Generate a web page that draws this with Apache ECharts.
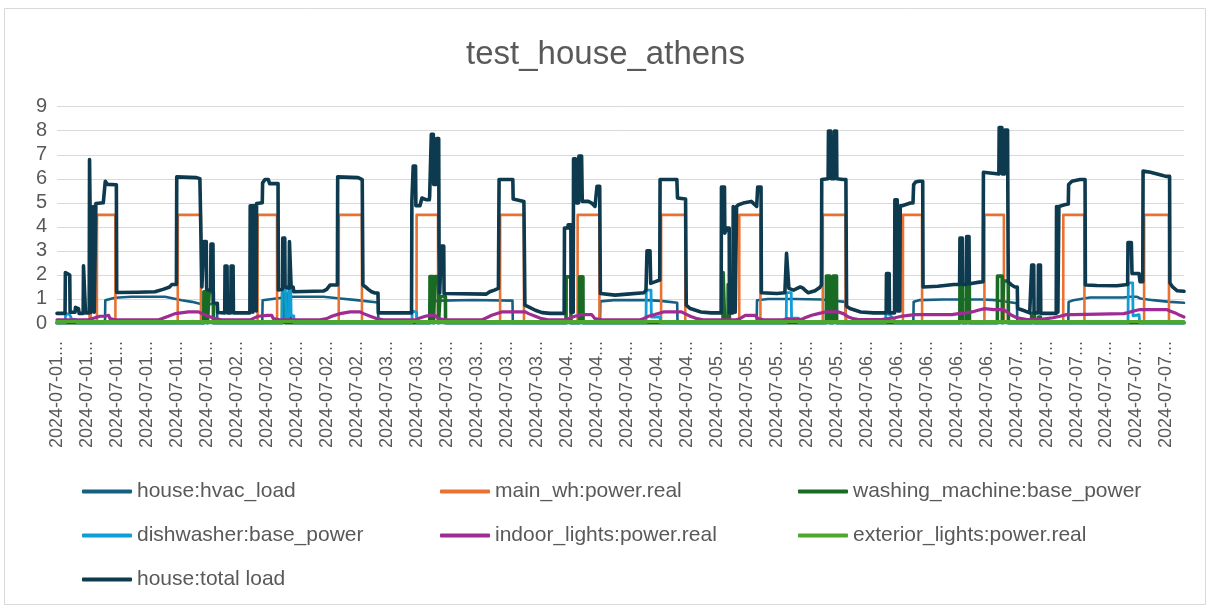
<!DOCTYPE html>
<html>
<head>
<meta charset="utf-8">
<script src="https://cdn.jsdelivr.net/npm/echarts@6/dist/echarts.min.js"></script>
<style>
html,body{margin:0;padding:0;background:#fff;}
#chart{width:1211px;height:612px;}
</style>
</head>
<body>
<div id="chart"></div>
<script>
// ---- tick labels (category labels shown by the source chart) ----
const tickLabels = [
  '2024-07-01...','2024-07-01...','2024-07-01...','2024-07-01...','2024-07-01...','2024-07-01...',
  '2024-07-02...','2024-07-02...','2024-07-02...','2024-07-02...','2024-07-02...',
  '2024-07-03...','2024-07-03...','2024-07-03...','2024-07-03...','2024-07-03...','2024-07-03...',
  '2024-07-04...','2024-07-04...','2024-07-04...','2024-07-04...','2024-07-04...',
  '2024-07-05...','2024-07-05...','2024-07-05...','2024-07-05...','2024-07-05...',
  '2024-07-06...','2024-07-06...','2024-07-06...','2024-07-06...','2024-07-06...',
  '2024-07-07...','2024-07-07...','2024-07-07...','2024-07-07...','2024-07-07...','2024-07-07...'
];
const tickStepHours = 4.47;

// ---- series values: [hours since 2024-07-01 00:00, kW] ----
const hvacLoad = [
  [0,0],[7.15,0],[7.2,0.95],[8.65,1.05],[11.1,1.09],[16.1,1.09],[18.6,0.95],[20.1,0.88],[21.3,0.8],[23.85,0.78],[23.9,0],
  [30.6,0],[30.65,0.95],[34.7,1.09],[39.7,1.09],[42.2,1.02],[44.7,0.95],[47.85,0.85],[47.9,0],
  [55.5,0],[55.55,0.9],[57,0.93],[62,0.96],[67.9,0.93],[67.95,0],
  [80.95,0],[81.0,0.9],[83,0.95],[88,0.95],[90,0.92],[92.45,0.84],[92.5,0],
  [104.3,0],[104.35,0.95],[106,1.0],[110,1.0],[114,0.98],[117.5,0.88],[117.65,0],
  [127.65,0],[127.7,0.88],[128.5,0.95],[132,0.98],[138,0.98],[140,0.95],[143.1,0.82],[143.15,0],
  [150.75,0],[150.8,0.88],[151.5,0.95],[154,1.06],[159,1.06],[160,1.09],[161,1.09],[161.5,1.02],[163.4,0.95],[165.9,0.88],[168,0.84]
];
const mainWh = [
  [0,0],[4.85,0],[4.86,4.5],[5.04,4.5],[5.05,0],[5.95,0],[5.96,4.5],[8.7,4.5],[8.71,0],
  [18.0,0],[18.01,4.5],[21.45,4.5],[21.46,0],[29.9,0],[29.91,4.5],[32.8,4.5],[32.81,0],
  [42.0,0],[42.01,4.5],[45.45,4.5],[45.46,0],[53.6,0],[53.61,4.5],[56.8,4.5],[56.81,0],
  [66.05,0],[66.06,4.5],[69.6,4.5],[69.61,0],[77.6,0],[77.61,4.5],[80.85,4.5],[80.86,0],
  [90.05,0],[90.06,4.5],[93.65,4.5],[93.66,0],[101.7,0],[101.71,4.5],[104.85,4.5],[104.86,0],
  [114.15,0],[114.16,4.5],[117.55,4.5],[117.56,0],[126.1,0],[126.11,4.5],[128.95,4.5],[128.96,0],
  [138.25,0],[138.26,4.5],[141.15,4.5],[141.16,0],[150.0,0],[150.01,4.5],[153.15,4.5],[153.16,0],
  [162.05,0],[162.06,4.5],[165.75,4.5],[165.76,0],[168,0]
];
const washingMachine = [
  [0,0],[21.88,0],[21.9,1.3],[22.4,1.3],[22.42,0],[22.68,0],[22.7,1.3],[23.3,1.3],[23.32,0],
  [33.6,0],[33.62,1.25],[34.0,1.25],[34.02,0],[34.55,0],[34.57,1.25],[34.85,1.25],[34.87,0],
  [55.58,0],[55.6,1.93],[56.1,1.93],[56.12,0],[56.33,0],[56.35,1.93],[56.85,1.93],[56.87,0],[57.08,0],[57.1,1.1],[57.9,1.1],[57.92,0],
  [75.88,0],[75.9,1.92],[76.6,1.92],[76.62,0],[77.88,0],[77.9,1.92],[78.4,1.92],[78.42,0],
  [99.28,0],[99.3,2.1],[99.5,2.1],[99.52,0],[100.03,0],[100.05,1.6],[100.25,1.6],[100.27,0],
  [114.68,0],[114.7,1.95],[115.2,1.95],[115.22,0],[115.68,0],[115.7,1.95],[116.2,1.95],[116.22,0],
  [134.58,0],[134.6,1.55],[135.0,1.55],[135.02,0],[135.58,0],[135.6,1.55],[136.0,1.55],[136.02,0],
  [140.18,0],[140.2,1.95],[140.9,1.95],[140.92,0],[141.08,0],[141.1,1.75],[141.8,1.75],[141.82,0],
  [145.28,0],[145.3,0.4],[145.7,0.4],[145.72,0],[146.28,0],[146.3,0.25],[146.6,0.25],[146.62,0],[168,0]
];
const dishwasher = [
  [0,0],[1.2,0],[1.3,0.4],[1.9,0.35],[2.2,0.15],[2.8,0.15],[3.0,0],
  [33.55,0],[33.6,1.5],[34.05,1.5],[34.1,0.2],[34.5,0.2],[34.55,1.45],[34.85,1.45],[34.9,0.3],[35.3,0.3],[35.35,0],
  [52.9,0],[52.95,0.5],[53.6,0.45],[53.65,0],
  [87.8,0],[87.85,1.37],[88.55,1.37],[88.6,0.25],[89.9,0.25],[89.95,0],
  [108.7,0],[108.75,1.26],[109.45,1.26],[109.5,0.2],[110.5,0.2],[110.55,0],
  [123.5,0],[123.55,0.4],[124.1,0.35],[124.8,0.15],[124.85,0],
  [159.65,0],[159.7,1.67],[160.35,1.67],[160.4,0.3],[161.3,0.35],[161.4,0],[168,0]
];
const indoorLights = [
  [0,0.13],[4.7,0.13],[5.2,0.18],[6.4,0.28],[7.16,0.28],[7.4,0.32],[7.7,0.32],[7.9,0.18],[8.65,0.13],
  [15.1,0.13],[15.6,0.18],[16.6,0.28],[17.6,0.39],[19.6,0.46],[21.1,0.46],[21.6,0.39],[22.6,0.28],[23.55,0.18],[24.55,0.13],
  [28.8,0.13],[29.0,0.18],[30.0,0.28],[31.3,0.32],[32.0,0.32],[32.25,0.18],[33.2,0.13],
  [39.2,0.13],[40.2,0.18],[40.95,0.28],[42.2,0.39],[43.7,0.46],[45.2,0.46],[45.7,0.39],[46.7,0.28],[47.7,0.18],[48.6,0.13],
  [53.5,0.13],[54.0,0.2],[54.9,0.28],[55.6,0.32],[56.35,0.32],[56.85,0.18],[57.8,0.13],
  [63.3,0.13],[64.05,0.22],[64.8,0.32],[66.3,0.46],[69.8,0.46],[70.3,0.39],[71.3,0.28],[72.25,0.18],[73.2,0.13],
  [75.7,0.13],[76.2,0.18],[77.2,0.28],[78.2,0.35],[79.7,0.35],[80.2,0.18],[81.2,0.13],
  [86.9,0.13],[87.4,0.18],[88.15,0.28],[89.1,0.35],[90.4,0.46],[93.1,0.46],[93.6,0.39],[94.4,0.28],[95.4,0.18],[96.3,0.13],
  [101.3,0.13],[101.8,0.18],[102.6,0.32],[104.05,0.32],[104.5,0.18],[105.3,0.13],
  [108.3,0.13],[108.8,0.18],[109.5,0.16],[111.0,0.15],[111.5,0.22],[112.5,0.32],[113.5,0.39],[114.5,0.46],[116.5,0.46],[117.2,0.39],[118.0,0.25],[118.7,0.18],[119.5,0.14],
  [122.9,0.14],[123.9,0.18],[124.9,0.22],[125.9,0.28],[126.9,0.32],[127.9,0.35],[133.4,0.35],[134.4,0.39],[135.4,0.42],[136.4,0.46],[137.3,0.53],[138.3,0.6],[139.6,0.56],[141.1,0.56],[141.6,0.46],[142.3,0.32],[143.1,0.22],[143.8,0.18],[144.55,0.14],
  [146.5,0.14],[147.5,0.18],[148.5,0.22],[149.5,0.28],[150.5,0.35],[151.5,0.35],[159.0,0.39],[159.5,0.42],[160.5,0.5],[161.45,0.56],[165.4,0.56],[165.9,0.5],[166.7,0.42],[167.4,0.32],[168,0.25]
];
const exteriorLights = [[0,0.06],[168,0.06]];
const totalLoad = [
  [0,0.4],[1.2,0.4],[1.25,2.1],[1.6,2.05],[1.9,2.0],[1.95,0.45],[2.7,0.45],[2.75,0.65],[3.2,0.6],[3.3,0.4],[3.9,0.4],[3.95,2.38],[4.2,2.38],[4.25,0.42],[4.8,0.42],[4.85,6.8],[5.05,6.8],[5.1,0.45],[5.35,0.45],[5.4,4.85],[5.5,4.85],[5.55,0.45],[5.75,0.45],[5.8,4.97],[6.9,5.0],[7.05,5.06],[7.2,5.9],[7.35,5.93],[7.5,5.77],[8.85,5.75],[8.9,1.27],[12.0,1.28],[14.6,1.3],[15.8,1.4],[16.8,1.5],[17.1,1.6],[17.8,1.6],[17.85,6.08],[20.8,6.05],[21.3,6.0],[21.55,5.95],[21.6,1.5],[21.85,1.45],[21.9,3.39],[22.25,3.39],[22.3,1.4],[22.9,1.35],[22.95,3.28],[23.25,3.28],[23.3,0.85],[23.9,0.82],[23.95,0.44],
  [25.0,0.42],[25.05,2.37],[25.35,2.37],[25.4,0.42],[25.9,0.42],[25.95,2.37],[26.25,2.37],[26.3,0.42],[28.75,0.42],[28.8,4.88],[29.15,4.88],[29.2,0.45],[29.25,4.88],[29.65,4.88],[29.7,0.5],[29.75,4.97],[30.6,5.0],[30.65,5.83],[31.0,5.97],[31.5,5.97],[31.7,5.8],[32.95,5.8],[33.0,1.37],[33.6,1.4],[33.65,3.53],[33.95,3.53],[34.0,1.5],[34.6,1.45],[34.65,3.39],[34.85,3.39],[34.9,1.5],[35.2,1.5],[35.3,1.3],[39.7,1.33],[40.2,1.4],[40.7,1.58],[41.8,1.58],[41.84,6.08],[44.9,6.05],[45.5,5.97],[45.6,1.58],[46.0,1.5],[46.4,1.4],[46.9,1.3],[47.4,1.25],[47.85,1.25],[47.9,0.42],
  [52.85,0.42],[52.9,5.06],[53.05,5.06],[53.1,6.53],[53.45,6.53],[53.5,4.88],[54.1,4.88],[54.4,5.2],[55.0,5.13],[55.5,5.13],[55.55,5.27],[55.8,7.85],[56.1,7.85],[56.15,5.76],[56.55,5.76],[56.6,7.67],[56.9,7.67],[56.95,3.2],[57.05,1.25],[57.25,1.25],[57.3,3.2],[57.65,3.2],[57.7,1.23],[64.0,1.2],[64.5,1.3],[65.2,1.37],[65.8,1.44],[65.9,5.97],[67.95,5.97],[68.0,5.16],[69.6,5.06],[69.75,0.74],[70.3,0.67],[71.3,0.53],[72.3,0.43],[73.5,0.4],
  [75.6,0.4],[75.65,3.95],[76.15,3.95],[76.2,4.09],[76.6,4.09],[76.65,0.45],[76.95,0.45],[77.0,6.83],[77.3,6.83],[77.4,5.0],[77.75,5.0],[77.8,6.95],[78.2,6.95],[78.3,5.06],[79.2,5.06],[79.7,4.99],[80.2,4.85],[80.45,4.85],[80.5,5.69],[80.9,5.69],[81.0,1.23],[83.2,1.16],[85.0,1.2],[87.5,1.26],[87.8,1.37],[87.95,3.0],[88.4,3.0],[88.5,1.65],[89.2,1.72],[89.85,1.79],[89.9,5.97],[92.4,5.97],[92.5,5.2],[93.7,5.16],[93.8,0.74],[94.4,0.6],[95.2,0.53],[96.0,0.46],[97.5,0.42],
  [99.0,0.42],[99.05,5.66],[99.5,5.66],[99.55,3.74],[99.85,3.95],[100.2,3.95],[100.25,0.42],[100.75,0.42],[100.8,4.85],[101.05,4.85],[101.1,0.45],[101.25,0.45],[101.3,4.85],[101.55,4.85],[101.6,4.92],[102.3,4.99],[103.5,5.06],[104.3,4.85],[104.45,5.66],[104.95,5.66],[105.0,1.26],[107.3,1.23],[108.5,1.26],[108.75,2.9],[109.0,2.9],[109.1,1.44],[109.8,1.37],[110.8,1.5],[111.2,1.45],[111.6,1.34],[112.0,1.26],[113.0,1.34],[113.7,1.48],[113.95,1.58],[114.0,5.97],[114.95,6.0],[115.0,7.99],[115.35,7.99],[115.4,6.0],[115.85,6.0],[115.9,7.99],[116.2,7.99],[116.25,6.0],[117.2,5.97],[117.6,5.97],[117.7,0.7],[118.2,0.6],[119.0,0.53],[119.8,0.46],[121.7,0.42],
  [123.6,0.42],[123.65,2.06],[124.05,2.06],[124.1,0.42],[124.85,0.42],[124.9,5.13],[125.25,5.13],[125.3,0.5],[125.65,0.5],[125.7,4.88],[126.0,4.88],[126.05,4.92],[127.2,4.99],[127.6,5.0],[127.7,5.76],[128.0,5.87],[128.5,5.9],[129.05,5.9],[129.1,1.5],[131.3,1.53],[133.7,1.6],[134.55,1.6],[134.6,3.53],[134.95,3.53],[135.0,1.6],[135.55,1.6],[135.6,3.6],[135.95,3.6],[136.0,1.62],[136.5,1.65],[137.5,1.7],[138.05,1.72],[138.1,6.27],[140.4,6.2],[140.45,8.13],[140.85,8.13],[140.9,6.2],[141.25,6.2],[141.3,8.03],[141.7,8.03],[141.8,1.72],[142.3,1.58],[142.8,1.5],[143.15,1.5],[143.2,0.6],[144.0,0.53],[145.0,0.42],
  [145.25,0.42],[145.3,2.41],[145.6,2.41],[145.65,0.42],[146.25,0.42],[146.3,2.41],[146.6,2.41],[146.65,0.4],[148.95,0.4],[149.0,4.85],[149.15,4.85],[149.2,0.45],[149.3,0.45],[149.35,4.85],[149.6,4.88],[150.2,4.92],[150.75,4.95],[150.8,5.76],[151.3,5.9],[152.5,5.97],[153.25,5.97],[153.3,1.58],[155.0,1.56],[158.0,1.55],[159.6,1.6],[159.65,3.35],[160.15,3.35],[160.25,2.06],[160.9,2.06],[161.1,2.12],[161.3,2.06],[161.45,1.72],[161.85,1.72],[161.9,6.32],[163.0,6.27],[164.7,6.15],[165.3,6.1],[165.85,6.1],[165.9,1.67],[166.3,1.5],[167.0,1.34],[168,1.32]
];

const seriesNames = ['house:hvac_load','main_wh:power.real','washing_machine:base_power','dishwasher:base_power','indoor_lights:power.real','exterior_lights:power.real','house:total load'];
const seriesColors = ['#156082','#E97132','#196B24','#0F9ED5','#A02B93','#4EA72E','#0D3A4E'];
const seriesData = [hvacLoad, mainWh, washingMachine, dishwasher, indoorLights, exteriorLights, totalLoad];
const seriesWidths = [2.6, 2.6, 3.6, 2.8, 3.2, 3, 3.6];

const FONT = 'Liberation Sans, Arial, sans-serif';
const TXT = '#595959';

const legendPos = [
  [82,481],[440,481],[798,481],
  [82,525],[440,525],[798,525],
  [82,569]
];

const chart = echarts.init(document.getElementById('chart'), null, {renderer:'canvas'});
chart.setOption({
  animation: false,
  backgroundColor: '#ffffff',
  textStyle: {fontFamily: FONT},
  title: {
    text: 'test_house_athens',
    left: 'center',
    top: 33,
    textStyle: {fontSize: 33, fontWeight: 'normal', color: TXT, fontFamily: FONT}
  },
  graphic: [{
    type: 'rect', silent: true, z: -10,
    shape: {x: 4.5, y: 8.5, width: 1201, height: 596},
    style: {fill: 'none', stroke: '#D9D9D9', lineWidth: 1}
  }],
  legend: seriesNames.map((n, i) => ({
    data: [n],
    left: legendPos[i][0],
    top: legendPos[i][1],
    padding: 0,
    icon: 'roundRect',
    itemWidth: 50,
    itemHeight: 4,
    selectedMode: false,
    textStyle: {fontSize: 21, color: TXT, fontFamily: FONT}
  })),
  grid: {left: 57, right: 27, top: 106.7, bottom: 289, containLabel: false},
  xAxis: {
    type: 'value', min: 0, max: 168, interval: tickStepHours,
    axisLine: {show: true, lineStyle: {color: '#D9D9D9', width: 1}},
    axisTick: {show: false},
    splitLine: {show: false},
    axisLabel: {
      rotate: 90, margin: 18, fontSize: 18, color: TXT, fontFamily: FONT,
      showMaxLabel: true, showMinLabel: true,
      formatter: function (v) {
        const i = Math.round(v / tickStepHours);
        if (Math.abs(i * tickStepHours - v) > 0.01 || i >= tickLabels.length) return '';
        return tickLabels[i];
      }
    }
  },
  yAxis: {
    type: 'value', min: 0, max: 9, interval: 1,
    axisLine: {show: false}, axisTick: {show: false},
    splitLine: {lineStyle: {color: '#D9D9D9', width: 1}},
    axisLabel: {fontSize: 20, color: TXT, margin: 10, fontFamily: FONT}
  },
  series: seriesNames.map((n, i) => ({
    name: n,
    type: 'line',
    data: seriesData[i],
    showSymbol: false,
    symbol: 'none',
    color: seriesColors[i],
    lineStyle: {width: seriesWidths[i], color: seriesColors[i], join: 'round', cap: 'round'},
    emphasis: {disabled: true},
    z: 2 + i
  }))
});
</script>
</body>
</html>
